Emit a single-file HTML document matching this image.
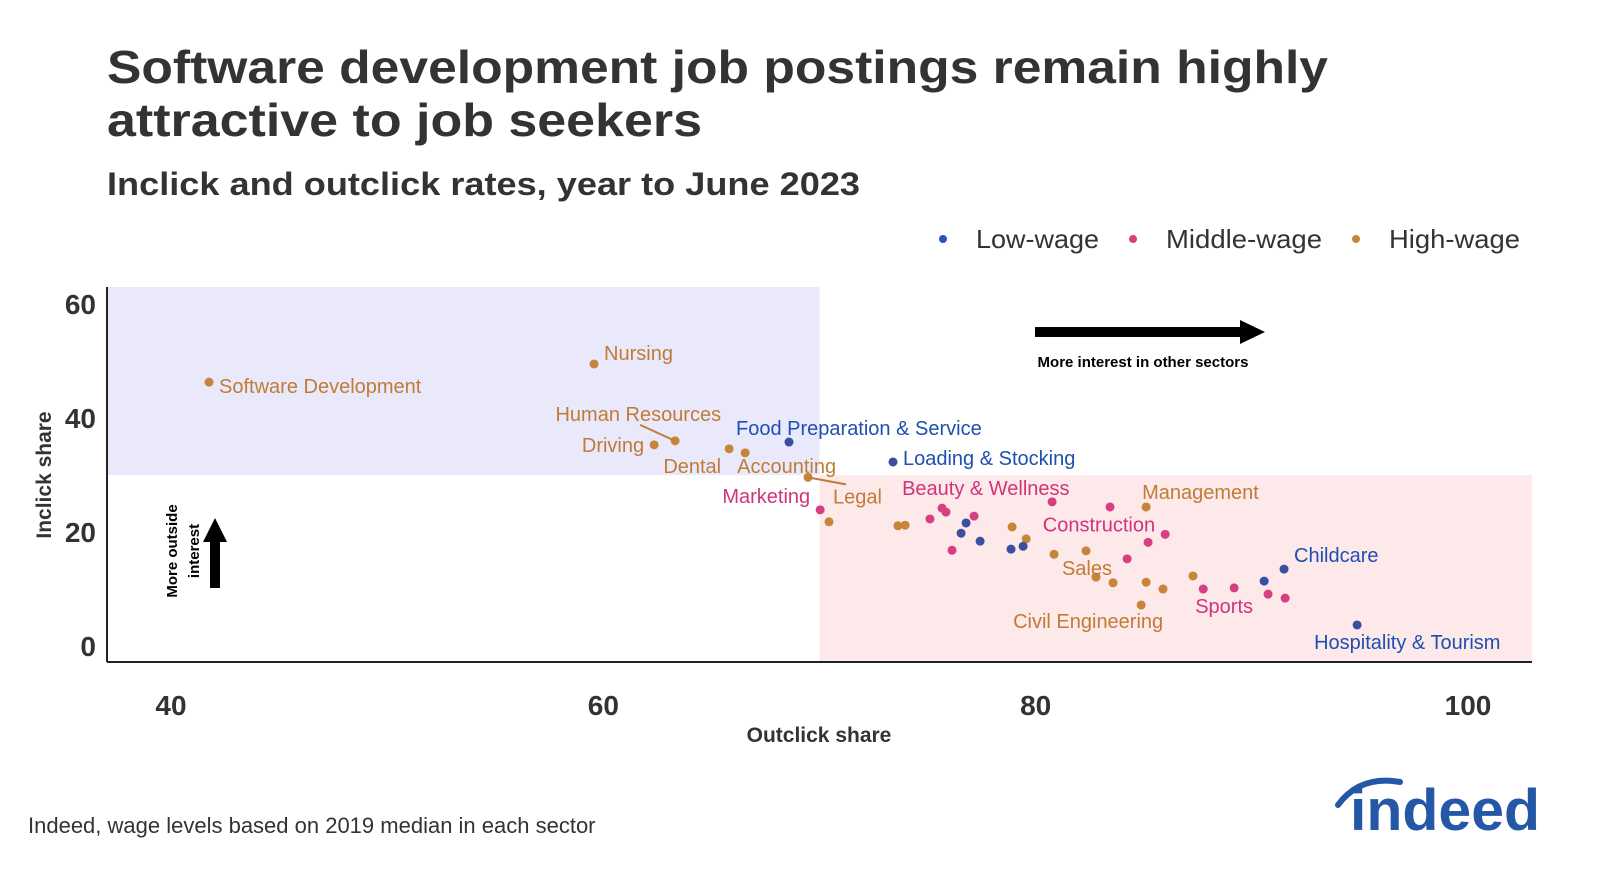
<!DOCTYPE html>
<html><head><meta charset="utf-8"><style>
html,body{margin:0;padding:0;background:#fff;}
svg{display:block;font-family:"Liberation Sans",Arial,sans-serif;}
.tt{font-weight:bold;fill:#333;}
</style></head><body>
<svg id="chart" width="1600" height="873" viewBox="0 0 1600 873" xmlns="http://www.w3.org/2000/svg">
<text class="tt" x="107" y="83" font-size="46" textLength="1221" lengthAdjust="spacingAndGlyphs">Software development job postings remain highly</text>
<text class="tt" x="107" y="136" font-size="46" textLength="595" lengthAdjust="spacingAndGlyphs">attractive to job seekers</text>
<text class="tt" x="107" y="195" font-size="32" textLength="753" lengthAdjust="spacingAndGlyphs">Inclick and outclick rates, year to June 2023</text>
<g>
<circle cx="943" cy="239" r="4" fill="#2a52be"/>
<text x="976" y="248" font-size="26" fill="#333" textLength="123" lengthAdjust="spacingAndGlyphs">Low-wage</text>
<circle cx="1133" cy="239" r="4" fill="#d63f80"/>
<text x="1166" y="248" font-size="26" fill="#333" textLength="156" lengthAdjust="spacingAndGlyphs">Middle-wage</text>
<circle cx="1356" cy="239" r="4" fill="#c8843a"/>
<text x="1389" y="248" font-size="26" fill="#333" textLength="131" lengthAdjust="spacingAndGlyphs">High-wage</text>
</g>
<g id="regions"></g>
<g id="axes"></g>
<g id="marks"></g>
<g id="labels"></g>
<g>
<rect x="1035" y="327" width="208" height="10" fill="#000"/>
<polygon points="1240,320 1265,332 1240,344" fill="#000"/>
<text x="1143" y="367" font-size="15" font-weight="bold" text-anchor="middle" fill="#000">More interest in other sectors</text>
</g>
<g>
<rect x="210" y="540" width="10" height="48" fill="#000"/>
<polygon points="203,542 215,518 227,542" fill="#000"/>
<text transform="translate(177,551) rotate(-90)" font-size="15" font-weight="bold" text-anchor="middle" fill="#000">More outside</text>
<text transform="translate(199,551) rotate(-90)" font-size="15" font-weight="bold" text-anchor="middle" fill="#000">interest</text>
</g>
<text class="tt" x="819" y="742" font-size="21" text-anchor="middle">Outclick share</text>
<text class="tt" transform="translate(51,475) rotate(-90)" font-size="21" text-anchor="middle">Inclick share</text>
<text x="28" y="833" font-size="22" fill="#333">Indeed, wage levels based on 2019 median in each sector</text>
<g>
<path d="M1338,805 Q1360,775 1400,782" stroke="#2557a7" stroke-width="6" fill="none" stroke-linecap="round"/>
<text x="1350" y="830" font-size="58" font-weight="bold" fill="#2557a7" textLength="190" lengthAdjust="spacingAndGlyphs">indeed</text>
</g>
</svg>
<script>
const lowX=[68.59,73.40,76.78,76.55,77.43,78.86,79.42,90.57,91.49,94.87];
const lowY=[35.8,32.3,21.6,19.8,18.4,17.0,17.5,11.4,13.5,3.7];
const lowNames=["Food Preparation & Service","Loading & Stocking","","","","","","","Childcare","Hospitality & Tourism"];
const midX=[70.03,75.11,75.67,75.85,77.15,76.13,80.76,83.44,85.99,85.20,84.23,87.75,89.18,90.75,91.54];
const midY=[23.9,22.3,24.2,23.5,22.8,16.8,25.3,24.4,19.6,18.2,15.3,10.0,10.2,9.1,8.4];
const midNames=["Marketing","","Beauty & Wellness","","","","","","","Construction","","Sports","","",""];
const highX=[41.76,59.57,63.32,62.35,65.82,66.56,69.47,70.44,73.63,73.96,78.91,79.56,80.85,82.33,82.79,83.58,85.11,85.11,85.89,84.88,87.28];
const highY=[46.3,49.5,36.0,35.3,34.6,33.9,29.6,21.8,21.1,21.2,20.9,18.8,16.1,16.7,12.1,11.1,24.4,11.2,10.0,7.2,12.3];
const highNames=["Software Development","Nursing","Human Resources","Driving","Dental","Accounting","Legal","","","","","","","","Sales","","Management","","","Civil Engineering",""];
const xTicks=[40,60,80,100];
const yTicks=[0,20,40,60];
const xDomain=[37.04,102.96], yDomain=[-2.8,63.0];
const L=107,R=1532,T=287,B=662;
const sx=v=>L+(v-xDomain[0])/(xDomain[1]-xDomain[0])*(R-L);
const sy=v=>B-(v-yDomain[0])/(yDomain[1]-yDomain[0])*(B-T);
// label placement: [dx,dy,anchor,leader]
const labelPos={
"Software Development":[10,4,"start"],"Nursing":[10,-11,"start"],"Human Resources":[46,-27,"end",[-35,-16]],
"Driving":[-10,0,"end"],"Dental":[-8,17,"end"],"Accounting":[-8,13,"start"],"Legal":[25,19,"start",[38,7]],
"Food Preparation & Service":[-53,-14,"start"],"Loading & Stocking":[10,-4,"start"],"Childcare":[10,-14,"start"],
"Hospitality & Tourism":[-43,17,"start"],"Marketing":[-10,-14,"end"],"Beauty & Wellness":[-40,-20,"start"],
"Construction":[7,-18,"end"],"Sports":[-8,17,"start"],"Sales":[-34,-9,"start"],"Management":[-4,-15,"start"],
"Civil Engineering":[22,16,"end"]};
const NS="http://www.w3.org/2000/svg";
function mk(tag,attrs,parent){const e=document.createElementNS(NS,tag);for(const k in attrs)e.setAttribute(k,attrs[k]);parent.appendChild(e);return e;}
const reg=document.getElementById('regions');
let r1=mk('rect',{x:L,y:T,width:sx(70)-L,height:sy(30)-T,fill:'#e9e9fb'},reg);


let r2=mk('rect',{x:sx(70),y:sy(30),width:R-sx(70),height:B-sy(30),fill:'#fde8ea'},reg);


const ax=document.getElementById('axes');
let xl=mk('line',{x1:L,y1:B,x2:R,y2:B,stroke:'#222','stroke-width':2},ax);


let yl=mk('line',{x1:L,y1:T,x2:L,y2:B,stroke:'#222','stroke-width':2},ax);


xTicks.forEach(t=>{const e=mk('text',{x:sx(t),y:715,'font-size':28,'font-weight':'bold','text-anchor':'middle',fill:'#333'},ax);e.textContent=t;

});
yTicks.forEach(t=>{const e=mk('text',{x:96,y:sy(t)+10,'font-size':28,'font-weight':'bold','text-anchor':'end',fill:'#333'},ax);e.textContent=t;

});
const marks=document.getElementById('marks'),labs=document.getElementById('labels');
function series(xs,ys,names,color,lcolor,key){
xs.forEach((x,i)=>{const cx=sx(x),cy=sy(ys[i]);
const c=mk('circle',{cx:cx,cy:cy,r:4.5,fill:color},marks);


const n=names[i];if(n&&labelPos[n]){const p=labelPos[n];
if(p[3]){const ln=mk('line',{x1:cx,y1:cy,x2:cx+p[3][0],y2:cy+p[3][1],stroke:lcolor,'stroke-width':2},labs);

}
const t=mk('text',{x:cx+p[0],y:cy+p[1]+7,'font-size':20,'text-anchor':p[2],fill:lcolor},labs);t.textContent=n;

}});}
series(highX,highY,highNames,'#c8843a','#c07c35','high-wage');
series(midX,midY,midNames,'#d63f80','#d0357a','middle-wage');
series(lowX,lowY,lowNames,'#3a4fa0','#1f4fb0','low-wage');
</script>
</body></html>
